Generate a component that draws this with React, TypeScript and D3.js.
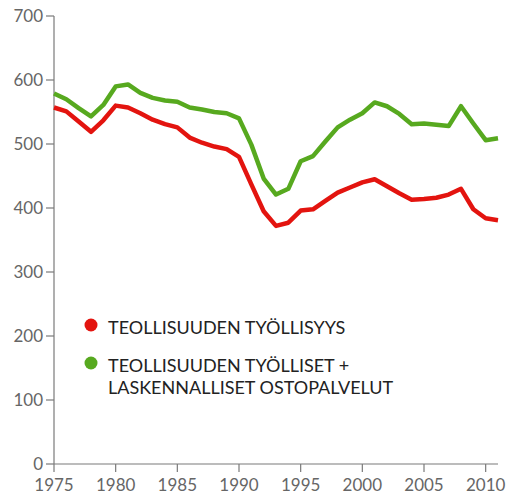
import { useEffect, useRef } from "react";
import * as d3 from "d3";

const YEARS = [
  1975, 1976, 1977, 1978, 1979, 1980, 1981, 1982, 1983, 1984, 1985, 1986, 1987, 1988, 1989, 1990, 1991, 1992, 1993,
  1994, 1995, 1996, 1997, 1998, 1999, 2000, 2001, 2002, 2003, 2004, 2005, 2006, 2007, 2008, 2009, 2010, 2011,
];
const EMPLOYMENT = [
  557, 551, 535, 519, 537, 560, 557, 548, 538, 531, 526, 510, 502, 496, 492, 480, 437, 395, 372, 377, 396, 398, 411,
  424, 432, 440, 445, 434, 423, 413, 414, 416, 421, 430, 398, 384, 381,
];
const EMPLOYMENT_PLUS = [
  579, 570, 556, 543, 561, 590, 593, 580, 572, 568, 566, 557, 554, 550, 548, 540, 499, 446, 421, 430, 473, 481, 504,
  526, 538, 548, 565, 559, 547, 531, 532, 530, 528, 559, 532, 506, 509,
];
const Y_TICKS = [0, 100, 200, 300, 400, 500, 600, 700];
const X_TICKS = [1975, 1980, 1985, 1990, 1995, 2000, 2005, 2010];
const LEGEND = [
  { label: ["TEOLLISUUDEN TYÖLLISYYS"], color: "#e3140f" },
  { label: ["TEOLLISUUDEN TYÖLLISET +", "LASKENNALLISET OSTOPALVELUT"], color: "#57a91f" },
];

export default function App() {
  const ref = useRef<SVGSVGElement>(null);

  useEffect(() => {
    const el = ref.current;
    if (!el) return;
    const W = 507, H = 494;
    const M = { top: 16, right: 9, bottom: 30, left: 54 };
    const font = "Lato, 'Open Sans', sans-serif";
    const svg = d3.select(el).attr("width", W).attr("height", H).attr("viewBox", `0 0 ${W} ${H}`);
    svg.selectAll("*").remove();

    const x = d3.scaleLinear().domain([1975, 2011]).range([M.left, W - M.right]);
    const y = d3.scaleLinear().domain([0, 700]).range([H - M.bottom, M.top]);

    // axes
    const axisColor = "#7a7a7a";
    svg.append("line").attr("x1", x(1975)).attr("x2", x(1975)).attr("y1", y(700)).attr("y2", y(0))
      .attr("stroke", axisColor).attr("stroke-width", 1.2);
    svg.append("line").attr("x1", x(1975)).attr("x2", x(2011)).attr("y1", y(0)).attr("y2", y(0))
      .attr("stroke", axisColor).attr("stroke-width", 1.2);

    svg.append("g").selectAll("line").data(Y_TICKS).join("line")
      .attr("x1", x(1975) - 8).attr("x2", x(1975)).attr("y1", (d) => y(d)).attr("y2", (d) => y(d))
      .attr("stroke", axisColor).attr("stroke-width", 1.2);
    svg.append("g").selectAll("text").data(Y_TICKS).join("text")
      .attr("x", x(1975) - 11).attr("y", (d) => y(d) + 6).attr("text-anchor", "end")
      .attr("fill", "#666").attr("font-size", 17).attr("font-family", font).text((d) => d);

    svg.append("g").selectAll("line").data(X_TICKS).join("line")
      .attr("x1", (d) => x(d)).attr("x2", (d) => x(d)).attr("y1", y(0)).attr("y2", y(0) + 8)
      .attr("stroke", axisColor).attr("stroke-width", 1.2);
    svg.append("g").selectAll("text").data(X_TICKS).join("text")
      .attr("x", (d) => x(d)).attr("y", y(0) + 27).attr("text-anchor", "middle")
      .attr("fill", "#666").attr("font-size", 17).attr("font-family", font).text((d) => d);

    // lines
    const line = d3.line<number>().x((_, i) => x(YEARS[i])).y((d) => y(d));
    [
      { values: EMPLOYMENT_PLUS, color: LEGEND[1].color },
      { values: EMPLOYMENT, color: LEGEND[0].color },
    ].forEach((s) => {
      svg.append("path").attr("d", line(s.values)).attr("fill", "none").attr("stroke", s.color)
        .attr("stroke-width", 4.5).attr("stroke-linejoin", "round");
    });

    // legend
    const lg = svg.append("g");
    LEGEND.forEach((l, i) => {
      const cy = i === 0 ? 325 : 363;
      lg.append("circle").attr("cx", 91).attr("cy", cy).attr("r", 6.5).attr("fill", l.color);
      l.label.forEach((t, j) => {
        lg.append("text").attr("x", 108).attr("y", cy + 8.5 + j * 22).attr("fill", "#222")
          .attr("font-size", 18).attr("font-family", font).text(t);
      });
    });
  }, []);

  return <svg ref={ref} style={{ position: "absolute", left: 0, top: 0 }} role="img" aria-label="Teollisuuden työllisyys" />;
}
